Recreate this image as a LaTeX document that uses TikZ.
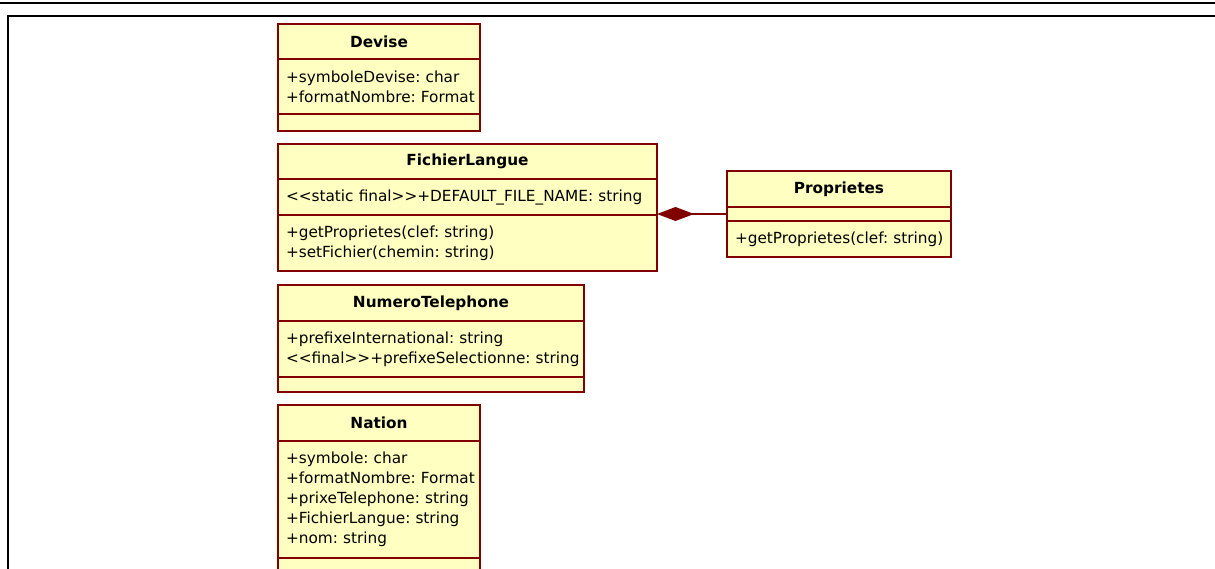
\documentclass[tikz,border=0pt]{standalone}
\usepackage{fontspec}
\setmainfont{DejaVu Sans}
\usetikzlibrary{positioning,arrows.meta}
\hyphenpenalty=10000
\definecolor{umlred}{RGB}{128,0,0}
\definecolor{umlfill}{RGB}{255,255,194}
\tikzset{
  umlbox/.style={
    rectangle,
    draw=umlred, line width=1.2pt,
    fill=umlfill,
    inner sep=0pt, outer sep=0pt,
    font=\fontsize{15.3}{20}\selectfont\frenchspacing},
  umlhead/.style={umlbox, font=\fontsize{15.3}{20}\selectfont\bfseries, align=center},
  umlpart/.style={umlbox, align=left, inner xsep=8pt},
  frameline/.style={line width=2.5pt},
  composition/.style={draw=umlred, line width=1.2pt,
    {Diamond[length=37pt,width=14pt,fill=umlred]}-},
}
\begin{document}
\begin{tikzpicture}[x=1pt, y=-1pt]
    \useasboundingbox (0,0) rectangle (1215,569);

    % frame
    \draw[frameline] (0,3) -- (1215,3);
    \draw[frameline] (8,569) -- (8,16) -- (1215,16);

    % Devise
    \node[umlhead, minimum width=202pt, minimum height=35pt, anchor=north west] (devise) at (278,24) {Devise};
    \node[umlpart, text width=186pt, minimum height=55pt, below=0pt of devise] (deviseattr) {+symboleDevise:~char\\+formatNombre:~Format};
    \node[umlpart, text width=186pt, minimum height=17pt, below=0pt of deviseattr] (deviseops) {};

    % FichierLangue
    \node[umlhead, minimum width=379pt, minimum height=35pt, anchor=north west] (fichier) at (278,144) {FichierLangue};
    \node[umlpart, text width=363pt, minimum height=36pt, below=0pt of fichier] (fichierattr) {{<}{<}static~final{>}{>}+DEFAULT\_FILE\_NAME:~string};
    \node[umlpart, text width=363pt, minimum height=56pt, below=0pt of fichierattr] (fichierops) {+getProprietes(clef:~string)\\+setFichier(chemin:~string)};

    % Proprietes
    \node[umlhead, minimum width=224pt, minimum height=36pt, anchor=north west] (prop) at (727,171) {Proprietes};
    \node[umlpart, text width=208pt, minimum height=14pt, below=0pt of prop] (propattr) {};
    \node[umlpart, text width=208pt, minimum height=36pt, below=0pt of propattr] (propops) {+getProprietes(clef:~string)};

    % NumeroTelephone
    \node[umlhead, minimum width=306pt, minimum height=36pt, anchor=north west] (numero) at (278,285) {NumeroTelephone};
    \node[umlpart, text width=290pt, minimum height=56pt, below=0pt of numero] (numeroattr) {+prefixeInternational:~string\\{<}{<}final{>}{>}+prefixeSelectionne:~string};
    \node[umlpart, text width=290pt, minimum height=15pt, below=0pt of numeroattr] (numeroops) {};

    % Nation
    \node[umlhead, minimum width=202pt, minimum height=36pt, anchor=north west] (nation) at (278,405) {Nation};
    \node[umlpart, text width=186pt, minimum height=117pt, below=0pt of nation] (nationattr) {+symbole:~char\\+formatNombre:~Format\\+prixeTelephone:~string\\+FichierLangue:~string\\+nom:~string};
    \node[umlpart, text width=186pt, minimum height=25pt, below=0pt of nationattr] (nationops) {};

    % composition
    \draw[composition] (fichierattr.south east |- propattr.west) -- (propattr.west);

\end{tikzpicture}
\end{document}
